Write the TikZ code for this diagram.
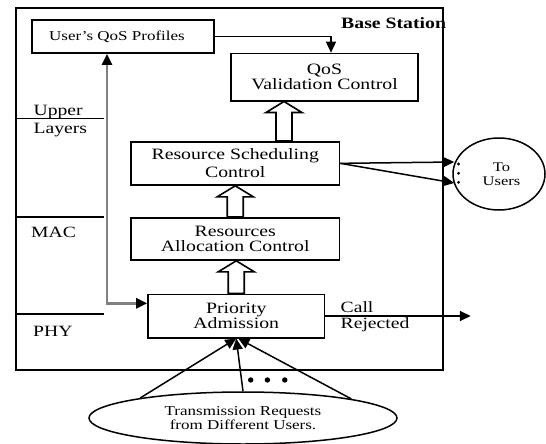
\documentclass[tikz,border=0pt]{standalone}
\usepackage{fontspec}
\setmainfont{Liberation Serif}[FakeStretch=1.25]
\usetikzlibrary{arrows.meta,shapes.geometric,calc}
\newcommand{\hollowarrow}[2]{%
  \draw[hol] let \p1=#1, \p2=#2 in
    (\x1-8pt,\y1) -- (\x1-8pt,\y2-11pt) -- (\x1-18pt,\y2-11pt) -- (\x1,\y2)
    -- (\x1+18pt,\y2-11pt) -- (\x1+8pt,\y2-11pt) -- (\x1+8pt,\y1) -- cycle;}
\begin{document}
\begin{tikzpicture}[x=1pt,y=-1pt,
  box/.style={draw, line width=1.6pt, rectangle, inner sep=0pt, align=center,
    font=\fontsize{15.8}{15.5}\selectfont},
  lbl/.style={inner sep=0pt, anchor=base west, font=\fontsize{15.7}{16}\selectfont},
  arr/.style={line width=1.5pt, -{Triangle[length=11pt,width=10pt]}},
  hol/.style={draw, line width=1.6pt, fill=white},
  gline/.style={draw=gray, line width=2.5pt}
]
\useasboundingbox (0,0) rectangle (546,444);

% base station frame
\node[draw, line width=1.6pt, minimum width=427.3pt, minimum height=361.7pt, inner sep=0pt] (bs) at (229.35,189.15) {};
\node[inner sep=0pt, anchor=west, font=\bfseries\fontsize{15.8}{16}\selectfont] (bst) at (341,23.3) {Base Station};

% layer separators
\draw[line width=1.5pt] ($(bs.north west)+(0,111)$) coordinate (l1) -- ++(88.8,0);
\draw[line width=1.5pt] ($(bs.north west)+(0,209.4)$) coordinate (l2) -- ++(88.8,0);
\draw[line width=1.5pt] ($(bs.north west)+(0,306.7)$) coordinate (l3) -- ++(88.8,0);
\node[lbl] (upper) at (33.5,115) {Upper};
\node[lbl] (layers) at (33.5,133) {Layers};
\node[lbl] (mac) at (31,237.3) {MAC};
\node[lbl] (phy) at (33,336) {PHY};

% boxes
\node[box, minimum width=182pt, minimum height=33pt, font=\fontsize{13.6}{14}\selectfont] (prof) at (123,36.5) {User's QoS Profiles\hspace*{12pt}};
\node[box, minimum width=187pt, minimum height=47.2pt] (qos) at (324.5,77.1) {QoS\\Validation Control};
\node[box, minimum width=208.5pt, minimum height=43.3pt, font=\fontsize{15.8}{18}\selectfont] (rsc) at (235.25,163.35) {Resource Scheduling\\Control};
\node[box, minimum width=208.5pt, minimum height=42.3pt] (rac) at (235.25,238.85) {Resources\\Allocation Control};
\node[box, minimum width=176.5pt, minimum height=43.4pt] (pa) at (236.25,316) {Priority\\Admission};

\node[draw, ellipse, line width=1.5pt, minimum width=92pt, minimum height=72pt, inner sep=0pt, align=center,
  font=\fontsize{13.2}{14.5}\selectfont] (users) at (499,174) {\hspace*{5pt}To\\\hspace*{5pt}Users};
\node[draw, ellipse, line width=1.5pt, minimum width=308pt, minimum height=52pt, inner sep=0pt, align=center,
  font=\fontsize{13.6}{14}\selectfont] (req) at (243,418) {Transmission Requests\\from Different Users.};

% connectors
\draw[arr] (prof.east) -| ($(qos.north)+(6.5,0)$);
\coordinate (gx) at (107,0);
\draw[gline, {Triangle[length=11pt,width=10pt,color=black]}-{Triangle[length=11pt,width=10pt,color=black]}]
  (prof.south -| gx) |- ($(pa.west)+(0,-12.7)$);

\hollowarrow{($(rsc.north)+(48.75,0)$)}{(qos.south)}
\hollowarrow{(rac.north)}{(rsc.south)}
\hollowarrow{(pa.north)}{(rac.south)}

\coordinate (u1) at ($(users.west)+(2,-12)$);
\coordinate (u2) at ($(users.west)+(2,9)$);
\draw[arr] (rsc.east) -- (u1);
\draw[arr] (rsc.east) -- (u2);
\fill ($(users.west)+(6.3,-10)$) circle (1.6pt);
\fill ($(users.west)+(6.3,-0.7)$) circle (1.6pt);
\fill ($(users.west)+(6.3,8.3)$) circle (1.6pt);

\coordinate (rej) at ($(pa.east)+(145.5,0)$);
\draw[arr] (pa.east) -- (rej);
\node[lbl] (call) at (340.5,312.3) {Call};
\node[lbl] (rejected) at (340.5,328.3) {Rejected};

\draw[arr] (req.169.6) -- (pa.south);
\draw[arr] (req.north) -- (pa.south);
\draw[arr] (req.10.4) -- ($(pa.south)+(2,0)$);
\fill ($(req.north)+(7.7,-11.3)$) circle (2.7pt);
\fill ($(req.north)+(24.4,-11.3)$) circle (2.7pt);
\fill ($(req.north)+(41.8,-11.3)$) circle (2.7pt);
\end{tikzpicture}
\end{document}
